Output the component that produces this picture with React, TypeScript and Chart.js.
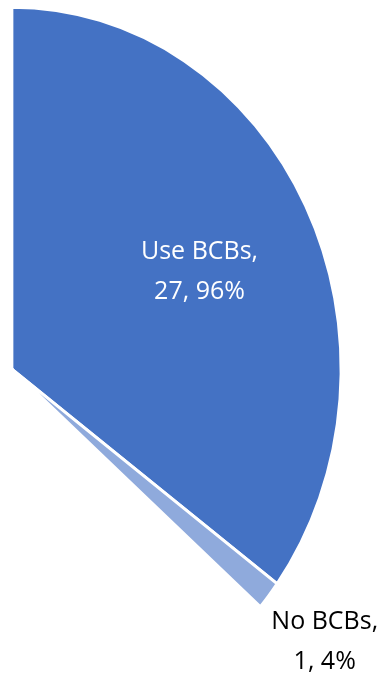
import React, { useEffect, useRef } from "react";
import { Chart, ArcElement, PieController } from "chart.js";

Chart.register(PieController, ArcElement);

// ---- data ----
const categories = ["Use BCBs", "No BCBs"];
const counts = [27, 1];

const total = counts.reduce((a, b) => a + b, 0);
const percents = counts.map((c) => Math.round((c / total) * 100));

// layout of the partial pie
const RADIUS = 362;
const SX = 329 / 362; // horizontal squash (reference pie is slightly elliptical)
const CENTER_X = 11.5;
const CENTER_Y = 369;

const ellipsePlugin = {
  id: "ellipse",
  beforeDatasetsDraw(chart: any) {
    const arc = chart.getDatasetMeta(0).data[0];
    const ctx = chart.ctx;
    ctx.save();
    ctx.translate(arc.x, 0);
    ctx.scale(SX, 1);
    ctx.translate(-arc.x, 0);
  },
  afterDatasetsDraw(chart: any) {
    chart.ctx.restore();
  },
};

const labelPlugin = {
  id: "sliceLabels",
  afterDraw(chart: any, _args: any, opts: any) {
    const ctx = chart.ctx;
    const meta = chart.getDatasetMeta(0);
    meta.data.forEach((arc: any, i: number) => {
      const { x, y, outerRadius } = arc.getProps(["x", "y", "outerRadius"], true);
      const a = (opts.angles[i] * Math.PI) / 180;
      const r = outerRadius * opts.radii[i];
      const px = x + Math.sin(a) * r * SX;
      const py = y - Math.cos(a) * r;
      const lines = [`${categories[i]},`, `${counts[i]}, ${percents[i]}%`];
      ctx.save();
      ctx.font = opts.font;
      ctx.fillStyle = opts.colors[i];
      ctx.textAlign = "center";
      ctx.textBaseline = "alphabetic";
      const lh = opts.lineHeight;
      const cap = opts.capHeight;
      lines.forEach((t, k) => {
        const by = py - lh / 2 + cap / 2 + k * lh;
        ctx.fillText(t, px, by);
      });
      ctx.restore();
    });
  },
};

export default function App() {
  const ref = useRef<HTMLCanvasElement | null>(null);

  useEffect(() => {
    const canvas = ref.current;
    if (!canvas) return;
    const chart = new Chart(canvas, {
      type: "pie",
      data: {
        labels: categories,
        datasets: [
          {
            data: counts,
            backgroundColor: ["#4472C4", "#8FAADC"],
            borderColor: "#FFFFFF",
            borderWidth: 3,
          },
        ],
      },
      options: {
        responsive: false,
        animation: false,
        events: [],
        rotation: 0,
        circumference: 131,
        radius: RADIUS,
        layout: { padding: 0 },
        plugins: {
          legend: { display: false },
          tooltip: { enabled: false },
          sliceLabels: {
            angles: [64.4, 128.2],
            radii: [0.632, 1.2095],
            colors: ["#FFFFFF", "#000000"],
            font: "25px 'Open Sans'",
            lineHeight: 40,
            capHeight: 17,
          },
        } as any,
      } as any,
      plugins: [ellipsePlugin, labelPlugin],
    });
    // place the canvas so that the pie centre lands where the reference has it
    const arc: any = chart.getDatasetMeta(0).data[0];
    canvas.style.left = `${CENTER_X - arc.x}px`;
    canvas.style.top = `${CENTER_Y - arc.y}px`;
    return () => chart.destroy();
  }, []);

  return (
    <div
      style={{
        position: "absolute",
        left: 0,
        top: 0,
        width: 380,
        height: 675,
        overflow: "hidden",
        background: "#FFFFFF",
      }}
    >
      <canvas
        ref={ref}
        width={420}
        height={800}
        style={{ position: "absolute", left: 0, top: 0, width: 420, height: 800 }}
      />
    </div>
  );
}
